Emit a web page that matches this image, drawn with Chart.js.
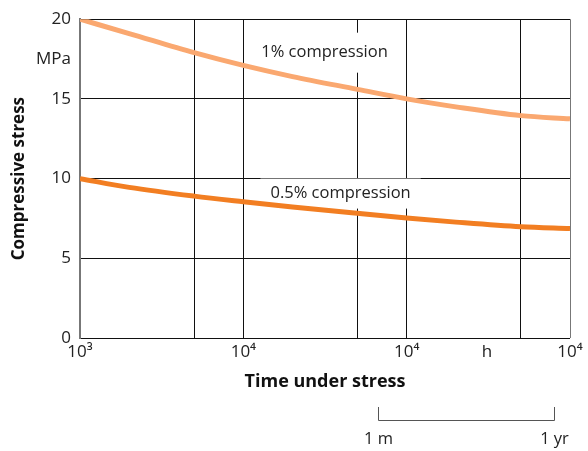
<!DOCTYPE html>
<html>
<head>
<meta charset="utf-8">
<script src="https://cdn.jsdelivr.net/npm/chart.js@4.4.1/dist/chart.umd.min.js"></script>
<style>
  html, body { margin: 0; padding: 0; background: #fff; }
  #wrap { width: 588px; height: 451px; }
</style>
</head>
<body>
<div id="wrap"><canvas id="creepChart"></canvas></div>
<script>
// werte
const hours = [1e3, 2e3, 5e3, 1e4, 2e4, 5e4, 1e5, 2e5, 5e5, 1e6];
const stress1 = [20.0, 19.1, 17.9, 17.1, 16.4, 15.6, 15.0, 14.5, 13.95, 13.75];
const stress05 = [10.0, 9.45, 8.9, 8.55, 8.22, 7.82, 7.53, 7.27, 6.98, 6.87];

const xTickValues = [1e3, 5e3, 1e4, 5e4, 1e5, 3.1e5, 5e5, 1e6];
const xTickLabels = ['10³', '', '10⁴', '', '10⁴', 'h', '', '10⁴'];
const yTickValues = [0, 5, 10, 15, 17.5, 20];
const yTickLabels = ['0', '5', '10', '15', 'MPa', '20'];

const curveLabels = ['1% compression', '0.5% compression'];
const curveLabelAt = [[3.14e4, 17.9], [3.94e4, 9.06]];
const bracketValues = [6.7e4, 8e5];
const bracketLabels = ['1 m', '1 yr'];

const FONT = '"Open Sans", "Noto Sans", sans-serif';
const TEXT = '#222';

// beschriftung der kurven mit weissem hintergrund (verdeckt das gitter)
const curveLabelPlugin = {
  id: 'curveLabels',
  beforeDatasetsDraw(chart) {
    const { ctx, scales: { x, y } } = chart;
    const pads = [[12, 20], [10, 15]];
    ctx.save();
    ctx.font = '16.5px ' + FONT;
    curveLabels.forEach((txt, i) => {
      const px = x.getPixelForValue(curveLabelAt[i][0]);
      const py = y.getPixelForValue(curveLabelAt[i][1]);
      const w = ctx.measureText(txt).width;
      ctx.fillStyle = '#fff';
      ctx.fillRect(px - w / 2 - pads[i][0], py - pads[i][1], w + 2 * pads[i][0], 2 * pads[i][1]);
      ctx.fillStyle = TEXT;
      ctx.textAlign = 'center';
      ctx.textBaseline = 'middle';
      ctx.fillText(txt, px, py);
    });
    ctx.restore();
  }
};

// klammer 1 m ... 1 yr unter der achse
const bracketPlugin = {
  id: 'bracket',
  afterDraw(chart) {
    const { ctx, scales: { x } } = chart;
    const x0 = Math.round(x.getPixelForValue(bracketValues[0])) + 0.5;
    const x1 = Math.round(x.getPixelForValue(bracketValues[1])) + 0.5;
    ctx.save();
    ctx.strokeStyle = '#555';
    ctx.lineWidth = 1;
    ctx.beginPath();
    ctx.moveTo(x0, 407);
    ctx.lineTo(x0, 420.5);
    ctx.lineTo(x1, 420.5);
    ctx.lineTo(x1, 407);
    ctx.stroke();
    ctx.font = '16.5px ' + FONT;
    ctx.fillStyle = TEXT;
    ctx.textAlign = 'center';
    ctx.textBaseline = 'middle';
    ctx.fillText(bracketLabels[0], x0, 439);
    ctx.fillText(bracketLabels[1], x1, 439);
    ctx.restore();
  }
};

const ctx = document.getElementById('creepChart').getContext('2d');
const creepChart = new Chart(ctx, {
  type: 'line',
  data: {
    labels: hours,
    datasets: [
      {
        label: curveLabels[0],
        data: hours.map((h, i) => ({ x: h, y: stress1[i] })),
        borderColor: '#FAA870',
        borderWidth: 5,
        pointRadius: 0,
        cubicInterpolationMode: 'monotone',
        fill: false
      },
      {
        label: curveLabels[1],
        data: hours.map((h, i) => ({ x: h, y: stress05[i] })),
        borderColor: '#F27E22',
        borderWidth: 5,
        pointRadius: 0,
        cubicInterpolationMode: 'monotone',
        fill: false
      }
    ]
  },
  options: {
    responsive: true,
    maintainAspectRatio: false,
    animation: false,
    layout: { padding: { left: 0, right: 18, top: 18, bottom: 55 } },
    plugins: {
      legend: { display: false },
      tooltip: { enabled: false }
    },
    scales: {
      x: {
        type: 'logarithmic',
        min: 1e3,
        max: 1e6,
        afterBuildTicks(scale) {
          scale.ticks = xTickValues.map(v => ({ value: v }));
        },
        afterFit(scale) { scale.height = 58; },
        ticks: {
          autoSkip: false,
          maxRotation: 0,
          padding: 4,
          color: TEXT,
          font: { family: FONT, size: 17 },
          callback: (value, index) => xTickLabels[index]
        },
        grid: {
          drawTicks: false,
          lineWidth: 1,
          color: c => {
            const v = c.tick && c.tick.value;
            if (v === 3.1e5) return 'rgba(0,0,0,0)';
            if (v === 1e6) return '#777';
            return '#111';
          }
        },
        border: { display: false },
        title: {
          display: true,
          text: 'Time under stress',
          color: '#111',
          font: { family: FONT, size: 18, weight: 'bold' },
          padding: { top: 0, bottom: 3 }
        }
      },
      y: {
        min: 0,
        max: 20,
        afterBuildTicks(scale) {
          scale.ticks = yTickValues.map(v => ({ value: v }));
        },
        afterFit(scale) { scale.width = 80; },
        ticks: {
          padding: 9,
          color: TEXT,
          font: { family: FONT, size: 17 },
          callback: (value, index) => yTickLabels[index]
        },
        grid: {
          drawTicks: false,
          lineWidth: 1,
          color: c => (c.tick && c.tick.value === 17.5) ? 'rgba(0,0,0,0)' : '#111'
        },
        border: { display: true, color: '#777', width: 2 },
        title: {
          display: true,
          text: 'Compressive stress',
          color: '#111',
          font: { family: FONT, size: 17, weight: 'bold' },
          padding: { top: 9, bottom: 0 }
        }
      }
    }
  },
  plugins: [curveLabelPlugin, bracketPlugin]
});
</script>
</body>
</html>
